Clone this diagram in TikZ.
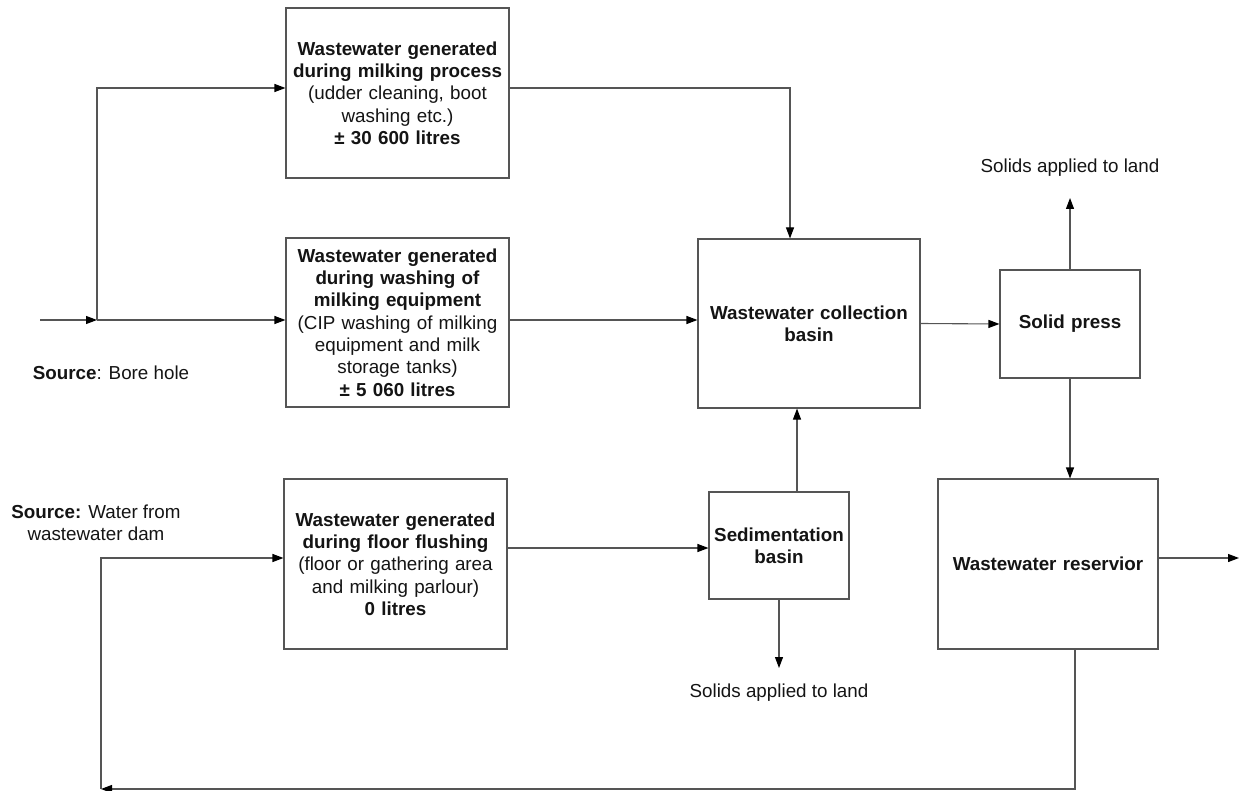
\documentclass[tikz,border=0pt]{standalone}
\usepackage{fontspec}
\setmainfont{Liberation Sans}
\usetikzlibrary{arrows.meta}
\definecolor{linegray}{RGB}{85,85,85}
\definecolor{txt}{RGB}{20,20,20}
\newcommand\fsz{\fontsize{18.8}{22.3}\selectfont}
\begin{document}
\begin{tikzpicture}[x=1pt,y=-1pt,
  every node/.style={font=\fsz, text=txt},
  box/.style={draw=linegray, line width=1.1pt, fill=white, inner sep=0pt,
    align=center, text width=210pt},
  flow/.style={draw=linegray, line width=1.1pt,
    -{Triangle[length=11pt,width=8pt,color=black]}},
  wire/.style={draw=linegray, line width=1.1pt}
]
\useasboundingbox (0,0) rectangle (1241,791);

% process boxes
\node[box, minimum width=223pt, minimum height=170pt] (b1) at (397.5,93)
  {\textbf{Wastewater generated}\\\textbf{during milking process}\\(udder cleaning, boot\\washing etc.)\\\textbf{± 30 600 litres}};
\node[box, minimum width=223pt, minimum height=169pt] (b2) at (397.5,322.5)
  {\textbf{Wastewater generated}\\\textbf{during washing of}\\\textbf{milking equipment}\\(CIP washing of milking\\equipment and milk\\storage tanks)\\\textbf{± 5 060 litres}};
\node[box, minimum width=223pt, minimum height=170pt] (b3) at (395.5,564)
  {\textbf{Wastewater generated}\\\textbf{during floor flushing}\\(floor or gathering area\\and milking parlour)\\\textbf{0 litres}};
\node[box, minimum width=222pt, minimum height=169pt] (coll) at (809,323.5)
  {\textbf{Wastewater collection}\\\textbf{basin}};
\node[box, text width=130pt, minimum width=140pt, minimum height=108pt] (press) at (1070,324)
  {\textbf{Solid press}};
\node[box, text width=134pt, minimum width=140pt, minimum height=107pt] (sed) at (779,545.5)
  {\textbf{Sedimentation}\\\textbf{basin}};
\node[box, minimum width=220pt, minimum height=170pt] (res) at (1048,564)
  {\textbf{Wastewater reservior}};

% free labels
\node (srcA) at (111,373) {\textbf{Source}: Bore hole};
\node[align=center] (srcB) at (96,523) {\textbf{Source:} Water from\\wastewater dam};
\node (sol1) at (1070,168) {Solids applied to land};
\node (sol2) at (779,693) {Solids applied to land};

% connector end points
\coordinate (in) at (40,320);
\coordinate (split) at (97,320);
\coordinate (up) at (1070,198);
\coordinate (down) at (779,668);
\coordinate (exit) at (1239,558);
\coordinate (corner) at (101,789);

% bore hole supply
\draw[flow] (in) -- (split);
\draw[flow] (split) |- ([yshift=5pt]b1.west);
\draw[flow] (split) -- ([yshift=2.5pt]b2.west);

% into the collection basin
\draw[flow] ([yshift=5pt]b1.east) -| ([xshift=-19pt]coll.north);
\draw[flow] ([yshift=2.5pt]b2.east) -- ([yshift=3.5pt]coll.west);
\draw[flow] ([xshift=18pt]sed.north) -- ([xshift=18pt]sed.north |- coll.south);

% floor flushing line
\draw[flow] ([yshift=16pt]b3.east) -- ([yshift=-2.5pt]sed.west);
\draw[flow] (sed.south) -- (down);

% solids separation
\draw[flow] (coll.east) -- (press.west);
\draw[flow] (press.north) -- (up);
\draw[flow] (press.south) -- (press.south |- res.north);

% reservoir outlets and return loop
\draw[flow] ([yshift=6pt]res.east) -- (exit);
\draw[flow] ([xshift=27pt]res.south) |- (corner);
\draw[flow] (corner) |- ([yshift=6pt]b3.west);
\end{tikzpicture}
\end{document}
